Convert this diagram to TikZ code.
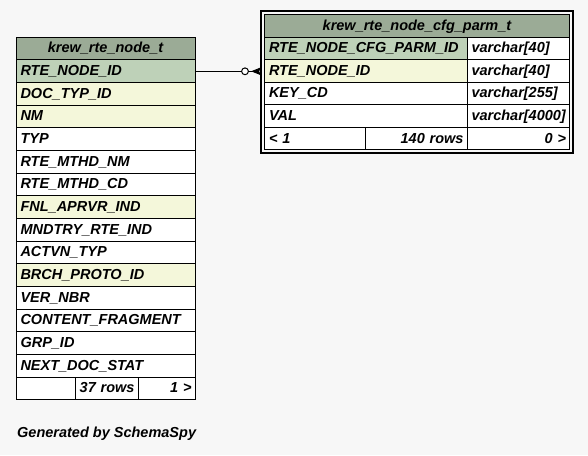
\documentclass[tikz,border=0pt]{standalone}
\usepackage{fontspec}
\setmainfont{Liberation Sans}
\usetikzlibrary{arrows.meta}
\definecolor{bgc}{HTML}{F7F7F7}
\definecolor{headc}{HTML}{9BAB96}
\definecolor{pkc}{HTML}{BED1B8}
\definecolor{idxc}{HTML}{F4F7DA}
\newcommand{\cellfont}{\bfseries\itshape\fontsize{14.5}{16}\selectfont}
\tikzset{
  cell/.style={draw=black, line width=1pt, anchor=north west, inner xsep=4.5pt, inner ysep=0pt,
    outer sep=0pt, text height=11pt, text depth=2.3pt, font=\cellfont, align=left, fill=white},
  lrow/.style={cell, minimum height=22.67pt, text width=170pt},
  rrow/.style={cell, minimum height=22.58pt},
  pk/.style={fill=pkc},
  idx/.style={fill=idxc},
  head/.style={fill=headc, align=center},
  rt/.style={align=right, inner xsep=3.5pt},
}
\begin{document}
\begin{tikzpicture}[x=1pt,y=-1pt]
\useasboundingbox (0,0) rectangle (588,455);
\fill[bgc] (0,0) rectangle (588,455);
% left table
\node[lrow,head] (lt0) at (16,37.3) {krew\_rte\_node\_t};
\node[lrow,pk]  (lr1)  at (16,59.97)  {RTE\_NODE\_ID};
\node[lrow,idx] (lr2)  at (16,82.63)  {DOC\_TYP\_ID};
\node[lrow,idx] (lr3)  at (16,105.3)  {NM};
\node[lrow]     (lr4)  at (16,127.97) {TYP};
\node[lrow]     (lr5)  at (16,150.63) {RTE\_MTHD\_NM};
\node[lrow]     (lr6)  at (16,173.3)  {RTE\_MTHD\_CD};
\node[lrow,idx] (lr7)  at (16,195.97) {FNL\_APRVR\_IND};
\node[lrow]     (lr8)  at (16,218.63) {MNDTRY\_RTE\_IND};
\node[lrow]     (lr9)  at (16,241.3)  {ACTVN\_TYP};
\node[lrow,idx] (lr10) at (16,263.97) {BRCH\_PROTO\_ID};
\node[lrow]     (lr11) at (16,286.63) {VER\_NBR};
\node[lrow]     (lr12) at (16,309.3)  {CONTENT\_FRAGMENT};
\node[lrow]     (lr13) at (16,331.97) {GRP\_ID};
\node[lrow]     (lr14) at (16,354.63) {NEXT\_DOC\_STAT};
\node[lrow,text width=50pt] (lf1) at (16,377.3) {};
\node[lrow,rt,text width=56pt] (lf2) at (75,377.3) {37 rows};
\node[lrow,rt,text width=50pt] (lf3) at (138,377.3) {1 >};
% right table
\node[draw, line width=2.3pt, minimum width=311.9pt, minimum height=141.6pt, inner sep=0pt, outer sep=0pt] (frame) at (417.05,82) {};
\node[rrow,head,text width=296pt] (rt0) at (264.5,14.5) {krew\_rte\_node\_cfg\_parm\_t};
\node[rrow,pk,text width=193.5pt]  (rn1) at (264.5,37.08) {RTE\_NODE\_CFG\_PARM\_ID};
\node[rrow,text width=93.5pt]      (ry1) at (467,37.08) {varchar[40]};
\node[rrow,idx,text width=193.5pt] (rn2) at (264.5,59.66) {RTE\_NODE\_ID};
\node[rrow,text width=93.5pt]      (ry2) at (467,59.66) {varchar[40]};
\node[rrow,text width=193.5pt]     (rn3) at (264.5,82.24) {KEY\_CD};
\node[rrow,text width=93.5pt]      (ry3) at (467,82.24) {varchar[255]};
\node[rrow,text width=193.5pt]     (rn4) at (264.5,104.82) {VAL};
\node[rrow,text width=93.5pt]      (ry4) at (467,104.82) {varchar[4000]};
\node[rrow,text width=91.5pt]      (rf1) at (264.5,127.4) {< 1};
\node[rrow,rt,text width=95pt]     (rf2) at (365,127.4) {140 rows};
\node[rrow,rt,text width=95.5pt]   (rf3) at (467,127.4) {0 >};
% connector
\coordinate (cend) at (lr1.east -| frame.west);
\draw[line width=1pt, -{Stealth[reversed,length=10pt,width=8pt,inset=2pt]}] (lr1.east) -- (cend);
\path (cend) ++(-16.1,0) node[circle, draw, line width=1pt, fill=white, minimum size=6.8pt, inner sep=0pt] (optc) {};
% footer text
\node[anchor=base west, inner sep=0pt, font=\cellfont] (gen) at (17,437) {Generated by SchemaSpy};
\end{tikzpicture}
\end{document}
